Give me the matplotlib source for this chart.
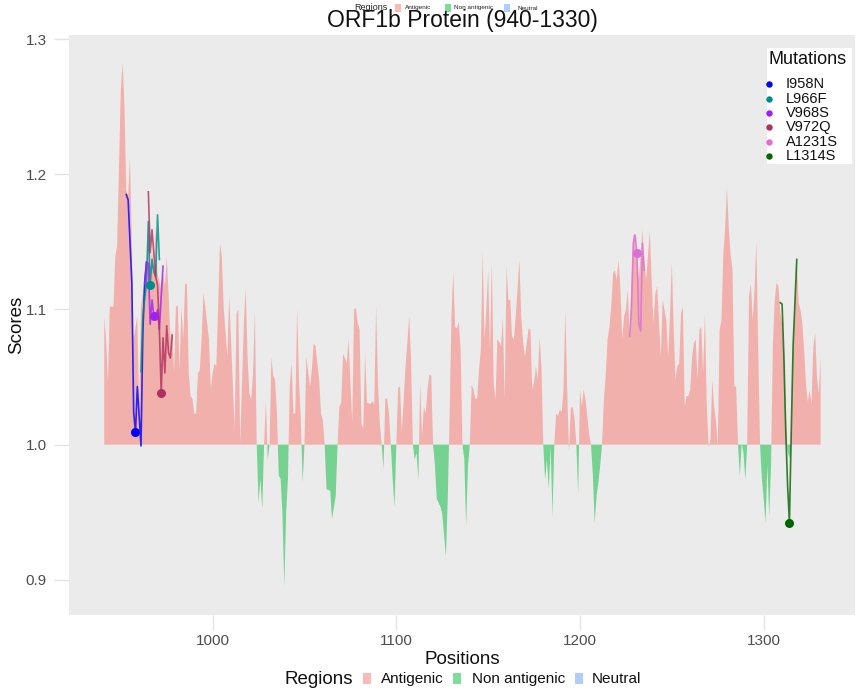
import matplotlib
matplotlib.use('Agg')
import matplotlib.pyplot as plt
from matplotlib.patches import Rectangle
from matplotlib.lines import Line2D
import numpy as np

plt.rcParams['font.family'] = ['Liberation Sans', 'DejaVu Sans']

title = "ORF1b Protein (940-1330)"

positions = [
    941, 942, 943, 944, 946, 947, 948, 950, 951, 952, 953, 954, 955, 956, 957, 959, 960, 961, 963, 964,
    965, 966, 967, 968, 969, 970, 972, 973, 974, 975, 976, 977, 978, 979, 980, 981, 982, 983, 984, 985,
    986, 987, 988, 989, 990, 991, 992, 993, 994, 995, 996, 998, 999, 1000, 1001, 1002, 1003, 1004, 1005, 1006,
    1008, 1009, 1010, 1012, 1013, 1014, 1015, 1017, 1018, 1019, 1020, 1021, 1022, 1023, 1024, 1025, 1026, 1027, 1028, 1029,
    1030, 1031, 1032, 1033, 1034, 1035, 1036, 1037, 1038, 1039, 1040, 1041, 1042, 1043, 1044, 1045, 1046, 1047, 1048, 1049,
    1050, 1051, 1053, 1054, 1055, 1056, 1058, 1059, 1060, 1061, 1062, 1064, 1065, 1067, 1068, 1069, 1070, 1071, 1072, 1073,
    1074, 1075, 1076, 1077, 1078, 1079, 1080, 1081, 1082, 1083, 1084, 1086, 1087, 1088, 1089, 1090, 1091, 1092, 1093, 1094,
    1095, 1096, 1097, 1098, 1099, 1100, 1101, 1102, 1103, 1104, 1105, 1106, 1107, 1108, 1109, 1110, 1111, 1112, 1113, 1114,
    1115, 1116, 1117, 1118, 1119, 1120, 1121, 1122, 1124, 1125, 1127, 1128, 1129, 1130, 1131, 1132, 1133, 1134, 1135, 1136,
    1137, 1138, 1139, 1140, 1141, 1142, 1143, 1144, 1145, 1146, 1147, 1148, 1149, 1150, 1151, 1152, 1153, 1154, 1155, 1156,
    1157, 1158, 1159, 1160, 1161, 1162, 1163, 1164, 1165, 1166, 1167, 1168, 1169, 1170, 1171, 1172, 1173, 1174, 1175, 1176,
    1177, 1178, 1179, 1180, 1181, 1182, 1183, 1184, 1185, 1186, 1187, 1188, 1189, 1190, 1191, 1192, 1193, 1194, 1195, 1196,
    1197, 1198, 1199, 1200, 1201, 1202, 1203, 1204, 1205, 1206, 1207, 1208, 1209, 1210, 1211, 1212, 1213, 1214, 1215, 1216,
    1217, 1218, 1219, 1220, 1221, 1222, 1223, 1224, 1225, 1226, 1227, 1228, 1229, 1230, 1231, 1232, 1233, 1234, 1235, 1236,
    1238, 1239, 1240, 1241, 1242, 1243, 1244, 1245, 1247, 1248, 1249, 1250, 1251, 1252, 1253, 1254, 1255, 1256, 1257, 1258,
    1259, 1260, 1261, 1262, 1263, 1264, 1265, 1266, 1267, 1268, 1269, 1270, 1271, 1272, 1273, 1274, 1275, 1276, 1277, 1278,
    1279, 1280, 1281, 1282, 1283, 1284, 1285, 1286, 1287, 1288, 1289, 1290, 1291, 1292, 1293, 1294, 1295, 1296, 1297, 1298,
    1299, 1300, 1301, 1302, 1303, 1304, 1305, 1306, 1307, 1308, 1309, 1310, 1311, 1312, 1313, 1314, 1315, 1316, 1317, 1318,
    1319, 1320, 1321, 1322, 1323, 1324, 1325, 1326, 1327, 1328, 1329, 1330, 1331,
]

scores = [
    1.094, 1.078, 1.046, 1.102, 1.102, 1.139, 1.147, 1.262, 1.283, 1.250, 1.188, 1.184, 1.212, 1.152, 1.078, 1.095, 1.028, 1.102, 1.122, 1.137,
    1.166, 1.127, 1.144, 1.127, 1.161, 1.127, 1.115, 1.127, 1.117, 1.139, 1.112, 1.078, 1.085, 1.053, 1.102, 1.103, 1.055, 1.102, 1.078, 1.119,
    1.119, 1.053, 1.036, 1.034, 1.023, 1.023, 1.053, 1.055, 1.078, 1.112, 1.102, 1.078, 1.041, 1.053, 1.060, 1.058, 1.102, 1.149, 1.139, 1.102,
    1.065, 1.110, 1.078, 1.011, 1.097, 1.100, 1.001, 1.090, 1.115, 1.065, 1.038, 1.033, 1.053, 1.099, 1.000, 0.957, 0.975, 0.952, 1.000, 1.033,
    0.989, 1.000, 1.065, 1.051, 1.048, 1.023, 0.977, 0.975, 0.949, 0.895, 0.949, 0.975, 1.045, 1.060, 1.023, 1.023, 1.101, 1.048, 1.018, 0.972,
    1.000, 1.065, 1.043, 1.055, 1.075, 1.073, 1.048, 1.023, 1.018, 1.000, 0.967, 0.966, 0.945, 0.962, 1.000, 1.028, 1.031, 1.067, 1.064, 1.060,
    1.078, 1.046, 1.016, 1.100, 1.101, 1.090, 1.085, 1.015, 1.012, 1.068, 1.031, 1.030, 1.032, 1.030, 1.103, 1.046, 1.016, 1.000, 0.982, 1.034,
    1.034, 1.023, 1.000, 0.975, 0.954, 1.000, 1.042, 1.043, 1.009, 1.033, 1.058, 1.075, 1.095, 1.063, 1.000, 0.989, 0.994, 0.974, 1.046, 1.006,
    1.028, 1.023, 1.041, 1.052, 1.051, 1.000, 0.985, 0.960, 0.954, 0.949, 0.917, 0.960, 1.021, 1.095, 1.127, 1.087, 1.086, 1.091, 1.070, 1.000,
    0.989, 0.940, 0.984, 1.000, 1.044, 1.041, 1.034, 1.034, 1.055, 1.070, 1.143, 1.078, 1.100, 1.129, 1.070, 1.136, 1.046, 1.033, 1.078, 1.076,
    1.073, 1.094, 1.033, 1.132, 1.107, 1.107, 1.080, 1.078, 1.095, 1.115, 1.137, 1.095, 1.076, 1.065, 1.075, 1.086, 1.085, 1.041, 1.046, 1.058,
    1.048, 1.079, 1.058, 1.000, 0.974, 0.989, 0.967, 0.999, 0.947, 1.000, 1.023, 1.021, 1.026, 1.024, 1.040, 1.100, 1.041, 0.996, 1.027, 1.028,
    1.020, 1.000, 0.964, 1.041, 1.028, 1.041, 1.033, 1.021, 1.007, 1.000, 0.977, 0.942, 0.962, 0.972, 0.985, 1.000, 1.033, 1.051, 1.078, 1.087,
    1.102, 1.127, 1.129, 1.122, 1.137, 1.115, 1.078, 1.095, 1.100, 1.115, 1.080, 1.120, 1.155, 1.156, 1.139, 1.122, 1.140, 1.159, 1.134, 1.122,
    1.158, 1.122, 1.090, 1.112, 1.117, 1.090, 1.065, 1.107, 1.092, 1.065, 1.097, 1.135, 1.085, 1.048, 1.058, 1.060, 1.097, 1.102, 1.028, 1.036,
    1.036, 1.041, 1.065, 1.075, 1.078, 1.048, 1.085, 1.087, 1.053, 1.097, 1.030, 0.998, 1.004, 1.048, 1.028, 1.018, 0.999, 1.085, 1.092, 1.140,
    1.160, 1.190, 1.160, 1.140, 1.130, 1.043, 1.043, 1.000, 0.977, 1.001, 0.994, 0.974, 1.000, 1.110, 1.119, 1.092, 1.115, 1.150, 1.073, 1.000,
    0.975, 0.960, 0.942, 0.985, 0.947, 0.985, 1.073, 1.107, 1.120, 1.117, 1.098, 1.090, 1.065, 1.023, 0.995, 0.990, 1.000, 1.073, 1.105, 1.137,
    1.105, 1.100, 1.090, 1.070, 1.045, 1.032, 1.040, 1.030, 1.072, 1.083, 1.050, 1.038, 1.065,
]

region_labels = ["Antigenic", "Non antigenic", "Neutral"]
region_colors = ["#F8766D", "#00BA38", "#619CFF"]

mut_names = ["I958N", "L966F", "V968S", "V972Q", "A1231S", "L1314S"]
mut_colors = ["#0000FF", "#008B8B", "#A020F0", "#B03060", "#DA70D6", "#006400"]
mut_sites = [958, 966, 968, 972, 1231, 1314]
mut_site_scores = [1.009, 1.118, 1.095, 1.038, 1.142, 0.942]

mut_I958N_pos = [953, 954, 956, 957, 958, 959, 960, 961, 962, 963, 964]
mut_I958N_val = [1.185, 1.181, 1.120, 1.024, 1.009, 1.043, 1.021, 0.999, 1.083, 1.120, 1.135]
mut_L966F_pos = [961, 962, 964, 965, 966, 967, 968, 969, 970, 971]
mut_L966F_val = [1.054, 1.095, 1.120, 1.165, 1.118, 1.137, 1.128, 1.124, 1.170, 1.137]
mut_V968S_pos = [963, 964, 965, 966, 967, 968, 969, 970, 971, 972, 973]
mut_V968S_val = [1.119, 1.135, 1.134, 1.089, 1.107, 1.095, 1.094, 1.100, 1.085, 1.110, 1.132]
mut_V972Q_pos = [965, 966, 967, 969, 970, 971, 972, 973, 974, 975, 976, 977, 978]
mut_V972Q_val = [1.187, 1.142, 1.159, 1.124, 1.118, 1.085, 1.038, 1.079, 1.053, 1.088, 1.068, 1.064, 1.081]
mut_A1231S_pos = [1227, 1228, 1229, 1230, 1231, 1232, 1233, 1234, 1235]
mut_A1231S_val = [1.080, 1.100, 1.149, 1.155, 1.142, 1.090, 1.084, 1.149, 1.129]
mut_L1314S_pos = [1309, 1310, 1311, 1312, 1313, 1314, 1315, 1316, 1317, 1318]
mut_L1314S_val = [1.105, 1.104, 1.065, 1.010, 0.970, 0.942, 1.010, 1.073, 1.105, 1.137]

mut_lines = [
    (mut_I958N_pos, mut_I958N_val),
    (mut_L966F_pos, mut_L966F_val),
    (mut_V968S_pos, mut_V968S_val),
    (mut_V972Q_pos, mut_V972Q_val),
    (mut_A1231S_pos, mut_A1231S_val),
    (mut_L1314S_pos, mut_L1314S_val),
]

x_ticks = [1000, 1100, 1200, 1300]
y_ticks = [0.9, 1.0, 1.1, 1.2, 1.3]
y_ticklabels = ["0.9", "1.0", "1.1", "1.2", "1.3"]

W, H = 857, 695
fig = plt.figure(figsize=(W / 100, H / 100), dpi=100)


def fx(px):
    return px / W


def fy(py):
    return 1 - py / H


ax = fig.add_axes([fx(69), fy(615), (855 - 69) / W, (615 - 35) / H])
ax.set_facecolor("#EBEBEB")

x = np.array(positions, dtype=float)
y = np.array(scores, dtype=float)
ax.fill_between(x, 1.0, y, where=y >= 1.0, interpolate=True,
                color=region_colors[0], alpha=0.5, lw=0)
ax.fill_between(x, 1.0, y, where=y <= 1.0, interpolate=True,
                color=region_colors[1], alpha=0.5, lw=0)

for (p, v), c in zip(mut_lines, mut_colors):
    ax.plot(p, v, color=c, lw=1.2, alpha=0.8, solid_joinstyle="round")
for s, sv, c in zip(mut_sites, mut_site_scores, mut_colors):
    ax.plot([s], [sv], "o", color=c, ms=6.5, mec="none")

ax.set_xlim(921.8, 1349.7)
ax.set_ylim(0.874, 1.303)
ax.set_xticks(x_ticks)
ax.set_xticklabels([str(t) for t in x_ticks])
ax.set_yticks(y_ticks)
ax.set_yticklabels(y_ticklabels)
for sp in ax.spines.values():
    sp.set_visible(False)
ax.tick_params(axis="both", length=11, width=1, color="#E3E3E3",
               labelcolor="#4d4d4d", labelsize=11)
ax.tick_params(axis="y", pad=5)
ax.tick_params(axis="x", pad=3)

# Mutations legend (drawn as a white box with entries)
fig.patches.append(Rectangle((fx(766.5), fy(163.5)), 85.5 / W, 115.5 / H,
                             transform=fig.transFigure, facecolor="white",
                             edgecolor="none", zorder=5))
fig.text(fx(769), fy(60), "Mutations", fontsize=13, ha="left", va="center",
         color="#111111", zorder=6)
for i, (name, col) in enumerate(zip(mut_names, mut_colors)):
    yy = 84.3 + 14.35 * i
    fig.add_artist(Line2D([fx(768.5)], [fy(yy)], marker="o", linestyle="none",
                          color=col, ms=4.6, mec="none", transform=fig.transFigure,
                          zorder=6))
    fig.text(fx(786), fy(yy), name, fontsize=10.5, ha="left", va="center",
             color="#111111", zorder=6)

# Titles and labels
fig.text(fx(462), fy(21), title, fontsize=16.5, ha="center", va="center", color="#111111")
fig.text(fx(462), fy(659), "Positions", fontsize=13.5, ha="center", va="center", color="#111111")
fig.text(fx(17), fy(325), "Scores", fontsize=13.5, ha="center", va="center",
         rotation=90, color="#111111")

# Bottom regions legend
fig.text(fx(319), fy(679), "Regions", fontsize=13.5, ha="center", va="center", color="#111111")
sq_x = [363, 453, 575]
txt_x = [381, 472, 592]
for sx, tx, lab, col in zip(sq_x, txt_x, region_labels, region_colors):
    fig.patches.append(Rectangle((fx(sx), fy(684)), 8 / W, 11 / H, transform=fig.transFigure,
                                 facecolor=col, alpha=0.5, edgecolor="none"))
    fig.text(fx(tx), fy(679), lab, fontsize=11, ha="left", va="center", color="#111111")

# Miniature duplicate legend at top (partly cut off in the original)
fig.text(fx(428), fy(-3), "Positions", fontsize=6.5, ha="center", va="center", color="#333333")
fig.text(fx(371), fy(8), "Regions", fontsize=6.5, ha="center", va="center", color="#222222")
msq_x = [395, 445, 504]
mtxt_x = [405, 454, 517]
for sx, tx, lab, col in zip(msq_x, mtxt_x, region_labels, region_colors):
    fig.patches.append(Rectangle((fx(sx), fy(12)), 6 / W, 8 / H, transform=fig.transFigure,
                                 facecolor=col, alpha=0.5, edgecolor="none"))
    fig.text(fx(tx), fy(8), lab, fontsize=4.6, ha="left", va="center", color="#222222")

fig.savefig("out.png", dpi=100, facecolor="white")
